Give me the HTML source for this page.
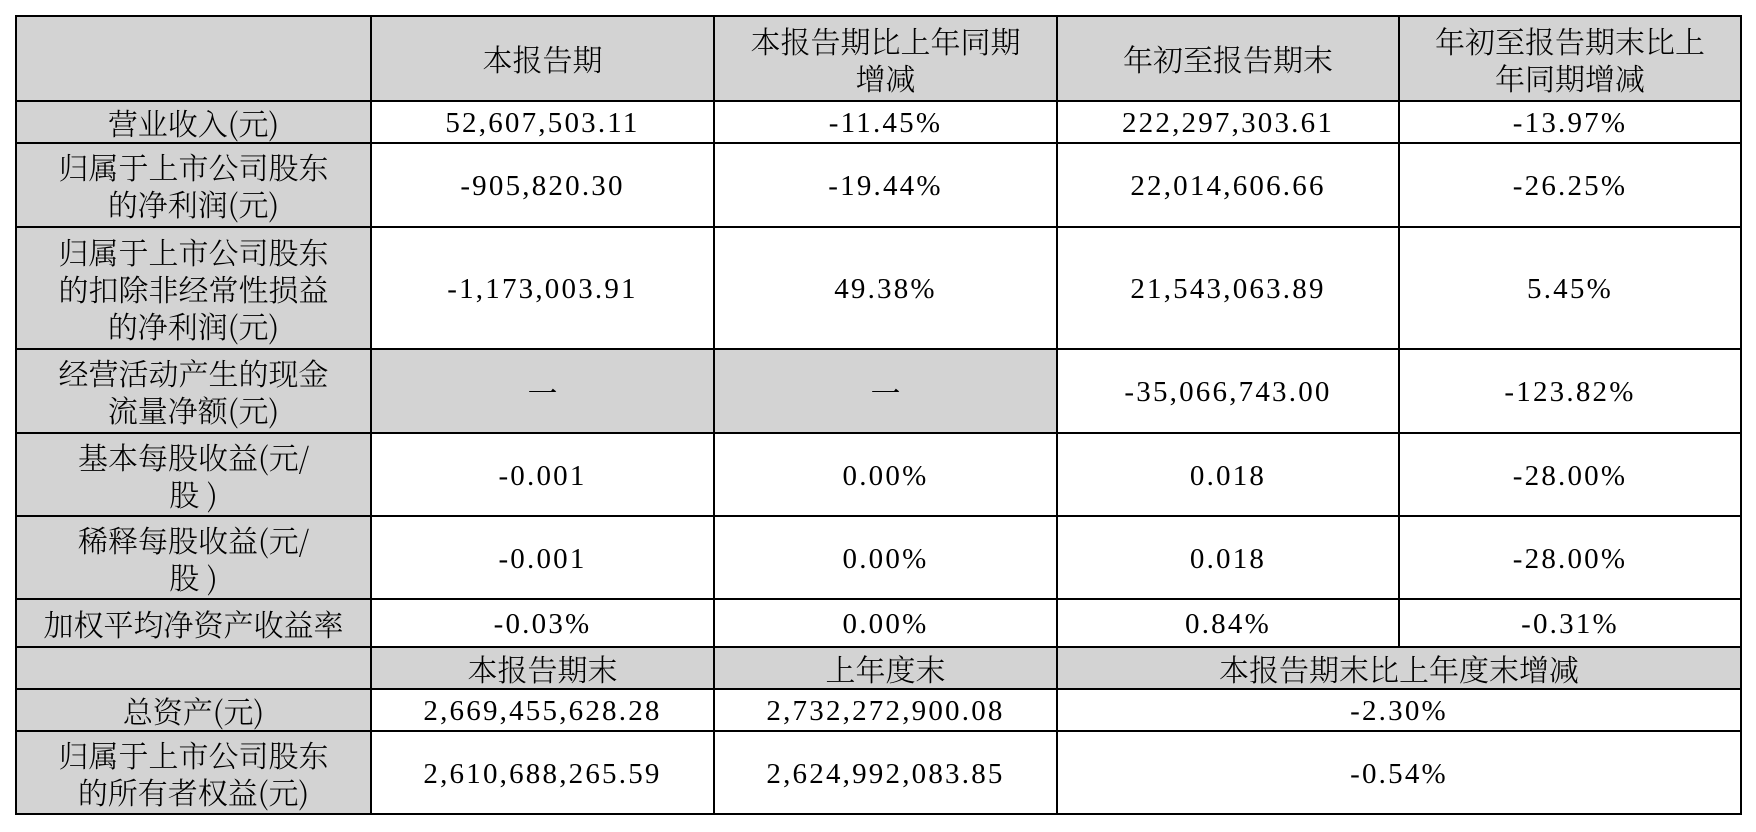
<!DOCTYPE html>
<html><head><meta charset="utf-8"><style>
body{margin:0;background:#fff;width:1756px;height:832px;overflow:hidden}
table{position:absolute;left:15px;top:15px;border-collapse:collapse;table-layout:fixed}
td{border:2.5px solid #000;padding:0;text-align:center;vertical-align:middle;color:#000;
font-family:"Liberation Serif","Noto Serif CJK SC",serif;font-size:29px;letter-spacing:2.2px;line-height:37px;padding-top:3px}
td.c,tr.h td{font-family:"Noto Serif CJK SC","Liberation Serif",serif;font-size:30px;letter-spacing:0;line-height:37px;font-weight:300;padding-top:0}
.g{background:#d3d3d3}
</style></head><body>
<table>
<colgroup><col style="width:355px"><col style="width:343px"><col style="width:343px"><col style="width:342px"><col style="width:342px"></colgroup>
<tr class="h" style="height:85px"><td class="g"></td><td class="g">本报告期</td><td class="g">本报告期比上年同期<br>增减</td><td class="g">年初至报告期末</td><td class="g">年初至报告期末比上<br>年同期增减</td></tr>
<tr style="height:41px"><td class="g c">营业收入(元)</td><td>52,607,503.11</td><td>-11.45%</td><td>222,297,303.61</td><td>-13.97%</td></tr>
<tr style="height:84px"><td class="g c">归属于上市公司股东<br>的净利润(元)</td><td>-905,820.30</td><td>-19.44%</td><td>22,014,606.66</td><td>-26.25%</td></tr>
<tr style="height:122px"><td class="g c">归属于上市公司股东<br>的扣除非经常性损益<br>的净利润(元)</td><td>-1,173,003.91</td><td>49.38%</td><td>21,543,063.89</td><td>5.45%</td></tr>
<tr style="height:84px"><td class="g c">经营活动产生的现金<br>流量净额(元)</td><td class="g c">一</td><td class="g c">一</td><td>-35,066,743.00</td><td>-123.82%</td></tr>
<tr style="height:83px"><td class="g c">基本每股收益(元/<br>股 )</td><td>-0.001</td><td>0.00%</td><td>0.018</td><td>-28.00%</td></tr>
<tr style="height:83px"><td class="g c">稀释每股收益(元/<br>股 )</td><td>-0.001</td><td>0.00%</td><td>0.018</td><td>-28.00%</td></tr>
<tr style="height:48px"><td class="g c">加权平均净资产收益率</td><td>-0.03%</td><td>0.00%</td><td>0.84%</td><td>-0.31%</td></tr>
<tr class="h" style="height:42px"><td class="g"></td><td class="g">本报告期末</td><td class="g">上年度末</td><td class="g" colspan="2">本报告期末比上年度末增减</td></tr>
<tr style="height:41px"><td class="g c">总资产(元)</td><td>2,669,455,628.28</td><td>2,732,272,900.08</td><td colspan="2">-2.30%</td></tr>
<tr style="height:83px"><td class="g c">归属于上市公司股东<br>的所有者权益(元)</td><td>2,610,688,265.59</td><td>2,624,992,083.85</td><td colspan="2">-0.54%</td></tr>
</table>
</body></html>
